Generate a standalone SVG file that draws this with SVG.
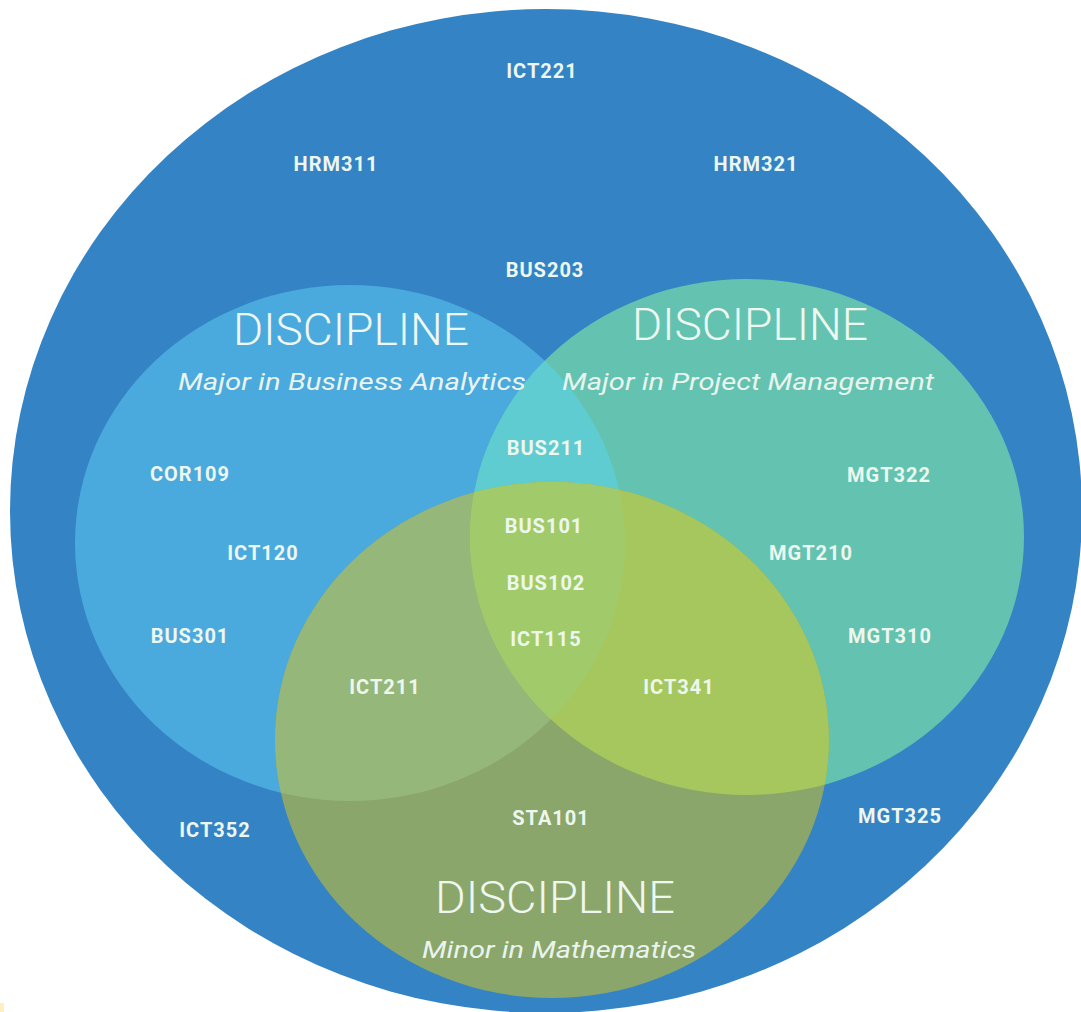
<svg xmlns="http://www.w3.org/2000/svg" width="1081" height="1012" viewBox="0 0 1081 1012">
<style>
.code{font-family:Roboto,"Liberation Sans",sans-serif;font-weight:700;font-size:20px;fill:#EDF7EE;text-anchor:middle;letter-spacing:1px}
.title{font-family:Roboto,"Liberation Sans",sans-serif;font-weight:300;font-size:44px;fill:#EEF7F0;text-anchor:middle}
.sub{font-family:Roboto,"Liberation Sans",sans-serif;font-style:italic;font-weight:400;font-size:23px;fill:#EAF4EE;text-anchor:middle}
</style>
<defs>
<ellipse id="eL" cx="350" cy="543" rx="275" ry="258"/>
<ellipse id="eR" cx="747" cy="537" rx="277" ry="258"/>
<ellipse id="eB" cx="552" cy="740" rx="277" ry="258"/>
<clipPath id="clipL"><use href="#eL"/></clipPath>
<clipPath id="clipR"><use href="#eR"/></clipPath>
<clipPath id="clipB"><use href="#eB"/></clipPath>
</defs>
<rect width="1081" height="1012" fill="#FFFFFF"/>
<rect x="0" y="1003" width="4" height="9" fill="#FFF0C4"/>
<g id="outer">
<ellipse cx="546" cy="511" rx="536" ry="502" fill="#3483C5"/>
</g>
<g id="major-ba">
<use href="#eL" fill="#4AA9DD"/>
</g>
<g id="major-pm">
<use href="#eR" fill="#63C3B0"/>
<g clip-path="url(#clipL)"><use href="#eR" fill="#5FCCD2"/></g>
</g>
<g id="minor-math">
<use href="#eB" fill="#8AA66B"/>
<g clip-path="url(#clipB)">
<use href="#eL" fill="#95B87A"/>
<use href="#eR" fill="#A6C75D"/>
<g clip-path="url(#clipL)"><use href="#eR" fill="#A1CB6B"/></g>
</g>
</g>
<g id="labels-titles">
<text class="title" x="351" y="345" textLength="236" lengthAdjust="spacingAndGlyphs">DISCIPLINE</text>
<text class="sub" x="352" y="390" textLength="348" lengthAdjust="spacingAndGlyphs">Major in Business Analytics</text>
<text class="title" x="750" y="340" textLength="236" lengthAdjust="spacingAndGlyphs">DISCIPLINE</text>
<text class="sub" x="748" y="390" textLength="372" lengthAdjust="spacingAndGlyphs">Major in Project Management</text>
<text class="title" x="555" y="913" textLength="240" lengthAdjust="spacingAndGlyphs">DISCIPLINE</text>
<text class="sub" x="559" y="958" textLength="274" lengthAdjust="spacingAndGlyphs">Minor in Mathematics</text>
</g>
<g id="courses">
<text class="code" x="542" y="78">ICT221</text>
<text class="code" x="336" y="171">HRM311</text>
<text class="code" x="756" y="171">HRM321</text>
<text class="code" x="545" y="277">BUS203</text>
<text class="code" x="190" y="481">COR109</text>
<text class="code" x="263" y="560">ICT120</text>
<text class="code" x="190" y="643">BUS301</text>
<text class="code" x="546" y="455">BUS211</text>
<text class="code" x="544" y="533">BUS101</text>
<text class="code" x="546" y="590">BUS102</text>
<text class="code" x="546" y="646">ICT115</text>
<text class="code" x="385" y="694">ICT211</text>
<text class="code" x="679" y="694">ICT341</text>
<text class="code" x="889" y="482">MGT322</text>
<text class="code" x="811" y="560">MGT210</text>
<text class="code" x="890" y="643">MGT310</text>
<text class="code" x="215" y="837">ICT352</text>
<text class="code" x="551" y="825">STA101</text>
<text class="code" x="900" y="823">MGT325</text>
</g>
</svg>
